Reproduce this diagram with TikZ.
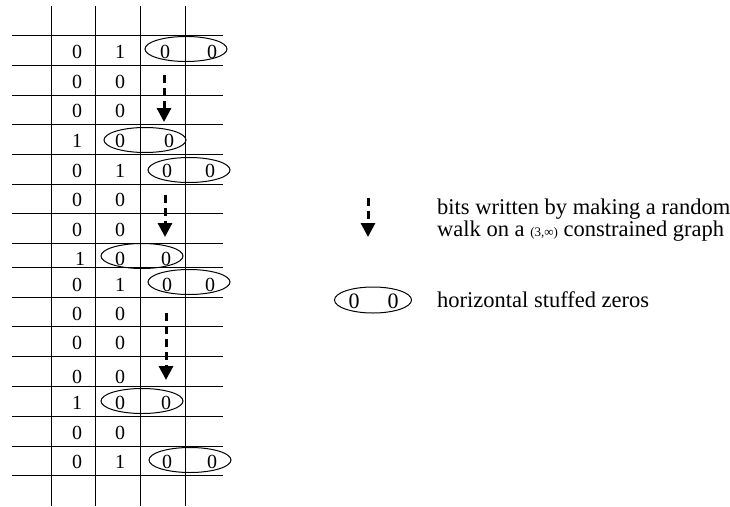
\documentclass[tikz,border=0pt]{standalone}
\usepackage{fontspec}
\setmainfont{Liberation Serif}
\usepackage{tikz}
\usetikzlibrary{arrows.meta, shapes.geometric}
\tikzstyle{bit}=[inner sep=0pt, font=\fontsize{20}{22}\selectfont]
\tikzstyle{stuff}=[draw=black, shape=ellipse, line width=1pt, inner sep=0pt, minimum width=82pt, minimum height=25pt]
\tikzstyle{walk}=[line width=3pt, dash pattern=on 8pt off 5pt, -{Triangle[width=14pt, length=14pt]}]
\tikzstyle{rule}=[line width=1pt, draw=black]

\begin{document}
\begin{tikzpicture}[x=1pt, y=-1pt]
	\useasboundingbox (0,0) rectangle (730,506);

	% grid
	\draw[style=rule] (51,6) -- (51,506);
	\draw[style=rule] (95,6) -- (95,506);
	\draw[style=rule] (140,6) -- (140,506);
	\draw[style=rule] (185,6) -- (185,506);
	\draw[style=rule] (12,35) -- (223,35);
	\draw[style=rule] (12,65) -- (223,65);
	\draw[style=rule] (12,95) -- (223,95);
	\draw[style=rule] (12,124) -- (223,124);
	\draw[style=rule] (12,154) -- (223,154);
	\draw[style=rule] (12,184) -- (223,184);
	\draw[style=rule] (12,213) -- (223,213);
	\draw[style=rule] (12,243) -- (223,243);
	\draw[style=rule] (12,267) -- (223,267);
	\draw[style=rule] (12,297) -- (223,297);
	\draw[style=rule] (12,326) -- (223,326);
	\draw[style=rule] (12,356) -- (223,356);
	\draw[style=rule] (12,386) -- (223,386);
	\draw[style=rule] (12,416) -- (223,416);
	\draw[style=rule] (12,446) -- (223,446);
	\draw[style=rule] (12,475) -- (223,475);

	% stuffed zeros
	\node[style=stuff] (o1) at (186,49) {};
	\node[style=stuff] (o4) at (145,140) {};
	\node[style=stuff] (o5) at (189,170) {};
	\node[style=stuff] (o8) at (142,256) {};
	\node[style=stuff] (o9) at (189,282) {};
	\node[style=stuff] (o13) at (142,401) {};
	\node[style=stuff] (o15) at (190,460) {};

	\node[style=bit] (1a) at (77,52) {0};
	\node[style=bit] (1b) at (120,52) {1};
	\node[style=bit] (1c) at (165,52) {0};
	\node[style=bit] (1d) at (212,52) {0};
	\node[style=bit] (2a) at (77,82) {0};
	\node[style=bit] (2b) at (120,82) {0};
	\node[style=bit] (3a) at (77,111) {0};
	\node[style=bit] (3b) at (120,111) {0};
	\node[style=bit] (4a) at (77,141) {1};
	\node[style=bit] (4b) at (120,141) {0};
	\node[style=bit] (4c) at (169,141) {0};
	\node[style=bit] (5a) at (77,171) {0};
	\node[style=bit] (5b) at (120,171) {1};
	\node[style=bit] (5c) at (167,171) {0};
	\node[style=bit] (5d) at (210,171) {0};
	\node[style=bit] (6a) at (77,200) {0};
	\node[style=bit] (6b) at (120,200) {0};
	\node[style=bit] (7a) at (77,230) {0};
	\node[style=bit] (7b) at (120,230) {0};
	\node[style=bit] (8a) at (80,259) {1};
	\node[style=bit] (8b) at (120,259) {0};
	\node[style=bit] (8c) at (166,259) {0};
	\node[style=bit] (9a) at (77,285) {0};
	\node[style=bit] (9b) at (120,285) {1};
	\node[style=bit] (9c) at (167,285) {0};
	\node[style=bit] (9d) at (210,285) {0};
	\node[style=bit] (10a) at (77,314) {0};
	\node[style=bit] (10b) at (120,314) {0};
	\node[style=bit] (11a) at (77,343) {0};
	\node[style=bit] (11b) at (120,343) {0};
	\node[style=bit] (12a) at (77,377) {0};
	\node[style=bit] (12b) at (120,377) {0};
	\node[style=bit] (13a) at (77,403) {1};
	\node[style=bit] (13b) at (120,403) {0};
	\node[style=bit] (13c) at (166,403) {0};
	\node[style=bit] (14a) at (77,433) {0};
	\node[style=bit] (14b) at (120,433) {0};
	\node[style=bit] (15a) at (77,462) {0};
	\node[style=bit] (15b) at (120,462) {1};
	\node[style=bit] (15c) at (167,462) {0};
	\node[style=bit] (15d) at (212,462) {0};

	% random walks
	\coordinate (w1) at (164,75);
	\coordinate (t1) at (164,122);
	\coordinate (w2) at (165,195);
	\coordinate (t2) at (165,237);
	\coordinate (w3) at (166,313);
	\coordinate (t3) at (166,380);
	\draw[style=walk] (w1) -- (t1);
	\draw[style=walk] (w2) -- (t2);
	\draw[style=walk] (w3) -- (t3);

	% legend
	\coordinate (lw) at (368,198);
	\coordinate (lt) at (368,237);
	\draw[style=walk] (lw) -- (lt);
	\node[anchor=west, align=left, inner sep=0pt, font=\fontsize{22.5}{22}\selectfont] (walktext) at (437,220) {bits written by making a random\\walk on a {\fontsize{13}{13}\selectfont(3,∞)} constrained graph};
	\node[style=stuff, minimum width=77pt, minimum height=26pt] (lo) at (373,300) {};
	\node[style=bit, font=\fontsize{22}{22}\selectfont] (la) at (354,301) {0};
	\node[style=bit, font=\fontsize{22}{22}\selectfont] (lb) at (393,301) {0};
	\node[anchor=west, inner sep=0pt, font=\fontsize{22.5}{22}\selectfont] (stufftext) at (437,300) {horizontal stuffed zeros};
\end{tikzpicture}
\end{document}
